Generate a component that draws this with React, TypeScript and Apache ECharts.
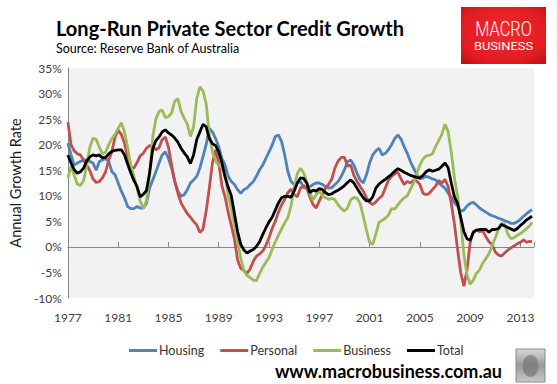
import React, { useEffect, useRef } from 'react';
import * as echarts from 'echarts';

// Quarterly observations from 1977 Q1, final point late 2013
const startYear = 1977;
const lastDate = 2013.92;
const seriesNames = ['Housing', 'Personal', 'Business', 'Total'];
const seriesColors = ['#4f81bd', '#c0504d', '#9bbb59', '#000000'];
const yTicks = [-10, -5, 0, 5, 10, 15, 20, 25, 30, 35];

const housing = [
  20.3, 18, 16, 16.4, 16.7, 17, 17, 16.7, 16.4, 15, 16.7, 17, 17.3, 16.7, 14.7, 14.1,
  12.5, 10.9, 9.6, 7.9, 7.5, 7.5, 7.9, 7.6, 7.6, 8.5, 11.5, 13.1, 14.7, 16.4, 18, 18.6,
  17.3, 15.4, 12.8, 10.9, 9.9, 10.2, 11.2, 12.5, 13.1, 13.8, 15.4, 17.7, 20, 23.2, 22.5, 21.2,
  19.6, 17.3, 16, 13.8, 12.8, 12.2, 11.2, 10.5, 11.2, 11.5, 12.2, 12.8, 13.8, 15.1, 16, 17.3,
  18.6, 19.9, 21.6, 21.9, 20.6, 18, 14.7, 12.8, 12.2, 12.5, 12.8, 11.6, 11.5, 11.8, 12.2, 12.5,
  12.5, 12.2, 11.8, 11.5, 11.6, 12.2, 12.8, 13.8, 15.1, 16.7, 17, 16, 14.4, 13.1, 12.5, 14.1,
  16.4, 18, 18.8, 19.3, 18, 18.3, 19, 20, 21.2, 21.9, 21.1, 19.6, 18.3, 16.7, 15.4, 14.2,
  13.3, 13.5, 13.8, 13.6, 13.3, 13.1, 12.5, 12, 11.5, 10.5, 9.7, 8.6, 8, 7, 7.2, 8,
  8.5, 8.7, 8.2, 7.6, 7.2, 6.8, 6.4, 6.1, 5.9, 5.6, 5.4, 5.1, 4.9, 4.6, 4.6, 4.9,
  5.4, 6, 6.5, 7.0, 7.3,
];
const personal = [
  24.4, 20, 18.8, 18.2, 18, 16.9, 16, 14.9, 13.3, 12.6, 12.8, 13.5, 14.7, 17, 18.6, 21.5,
  22.8, 22, 20.3, 17.5, 15.6, 15.4, 16.5, 17.8, 18.3, 19.3, 19.8, 19.6, 19, 19.4, 21, 21.5,
  19.5, 16, 12.8, 10.5, 8.6, 7.5, 6.5, 5.8, 5, 4.3, 2.8, 3.5, 7, 11.5, 16.5, 19,
  16.5, 12, 9.8, 6.8, 4.2, 1.5, -2.5, -4.2, -4.6, -5.2, -4.3, -2.8, -1.8, -1.4, -0.8, 0.3,
  1.8, 3.6, 5, 6.8, 8.2, 9.3, 10.6, 11.3, 10.3, 9.8, 11.5, 12, 11.5, 9.8, 8.3, 7.6,
  9, 10.2, 11.5, 12.3, 13.3, 15.5, 16.8, 17.5, 17.5, 15.8, 16, 14, 12.8, 11.8, 10.9, 9.6,
  8.7, 8.3, 8.8, 9.5, 10, 11.5, 13, 13.8, 14.3, 14.6, 13.3, 12.2, 12.8, 12.5, 13, 12.9,
  12.2, 10.5, 10.2, 10.5, 11.2, 11.9, 13, 12.5, 13.2, 11.8, 8.5, 4.5, -0.5, -5, -7.7, -4.5,
  0.8, 3, 3.3, 3, 3.1, 2, 1, 0.4, -1, -1.6, -1.8, -1.2, -0.6, -0.2, 0.2, 0.6,
  0.9, 1.4, 0.9, 1.1, 1.0,
];
const business = [
  13.5, 15.8, 14, 12.3, 12, 13, 16, 19.5, 21.3, 21, 19.5, 18.2, 18.5, 20, 21.2, 22,
  23.2, 24.3, 22.5, 19.5, 16, 13.8, 11.5, 9, 7.5, 9, 14, 21.5, 25, 26.5, 26.8, 25.3,
  25.5, 26.2, 28.5, 29, 26.5, 25.2, 24, 21.6, 23.5, 29, 31.3, 30.5, 28, 22, 18.6, 16.8,
  16, 15.5, 14.3, 10, 7.5, 4.3, 1, -2.2, -4.6, -5.6, -6, -6.5, -6.6, -5.2, -4, -3,
  -2.1, -0.5, 1, 2.3, 3.5, 4.7, 5.7, 8, 11.5, 14.3, 15.4, 14.5, 12.8, 10.5, 9.2, 10.2,
  10.9, 10, 9.6, 9.3, 9.5, 9.2, 8.2, 7.5, 7, 7.6, 9.2, 9.7, 9.5, 8.5, 6, 3.3,
  0.9, 0.5, 2.5, 4.8, 5.2, 5.6, 6.2, 7.5, 7.4, 8.2, 9, 9.6, 10, 11.3, 12.5, 14.3,
  16, 17.2, 17.8, 17.9, 18.2, 19.6, 20.8, 22, 24, 22.5, 18.5, 13.5, 10, 5, -1.5, -5.5,
  -7.3, -6.5, -5.2, -4.5, -3.2, -2.3, -1.3, 0.2, 1.8, 3.4, 4.6, 4.4, 2.5, 1.6, 1.8, 2.3,
  2.6, 3.1, 3.6, 4.2, 4.8,
];
const total = [
  18, 16.4, 15.1, 14.4, 14.7, 15.4, 16.8, 17.6, 18, 17.8, 18, 17.4, 17.5, 18.2, 18.7, 18.9,
  19, 19, 18, 16.2, 14.5, 13, 11.8, 9.8, 10.3, 11, 14.5, 19.2, 20.8, 21.5, 22.5, 22.9,
  22.3, 21.9, 21.3, 20.5, 19.3, 18.4, 17.6, 16.3, 18, 21, 22.5, 24, 23.5, 21.2, 20.2, 19.8,
  18.6, 16.5, 13.7, 11.7, 10, 6.5, 3, 0.5, -0.6, -1.2, -0.8, -0.5, 0.1, 1, 2.4, 3.7,
  4.9, 5.8, 7.2, 8.6, 9.6, 9.9, 9.9, 9.7, 10.9, 12.5, 13.5, 13.4, 12.5, 10.6, 11.1, 10.9,
  11.4, 11.2, 10.6, 10.2, 10.4, 10.8, 11.1, 11.5, 12, 12.6, 13.1, 12.5, 11.5, 10.5, 9.6, 9,
  9, 9.8, 11.5, 12.3, 12.8, 13.2, 13.7, 14.2, 14.8, 15.3, 15, 14.6, 14.3, 14, 13.8, 13.6,
  13.5, 14, 14.7, 15.1, 14.8, 15, 15.2, 15.8, 16.4, 15.5, 12.5, 9.8, 8.5, 5.8, 3, 1.6,
  1.3, 2.8, 3.3, 3.4, 3.4, 3.4, 2.9, 3.4, 3.4, 3.6, 4.4, 4.1, 3.8, 3.5, 3.2, 3.6,
  4.2, 4.7, 5.3, 5.7, 6.0,
];

const allSeries = [housing, personal, business, total];

function toPoints(values: number[]): [number, number][] {
  return values.map((v, i) => [i === values.length - 1 ? lastDate : startYear + i * 0.25, v]);
}

const FONT = 'Lato, "Open Sans", sans-serif';

export default function App() {
  const ref = useRef<HTMLDivElement>(null);
  useEffect(() => {
    document.body.style.margin = '0';
    if (!ref.current) return;
    const chart = echarts.init(ref.current, undefined, { renderer: 'svg' });
    const axisGrey = '#868686';
    const xCommon = {
      type: 'value' as const,
      min: startYear,
      max: 2014.08,
      interval: 4,
      splitLine: { show: false },
    };
    chart.setOption({
      animation: false,
      backgroundColor: '#ffffff',
      textStyle: { fontFamily: FONT },
      grid: {
        left: 56, right: 23, top: 68, bottom: 86,
        show: true, backgroundColor: '#f2f2f2', borderWidth: 0,
      },
      xAxis: [
        {
          ...xCommon,
          position: 'bottom',
          axisLine: { show: false, onZero: false },
          axisTick: { show: false },
          axisLabel: {
            margin: 13,
            color: '#404040',
            fontSize: 12,
            fontFamily: FONT,
            align: 'center',
            formatter: (v: number) => ((v - startYear) % 4 === 0 ? String(v) : ''),
          },
        },
        {
          ...xCommon,
          position: 'top',
          axisLine: { show: true, onZero: true, onZeroAxisIndex: 0, lineStyle: { color: axisGrey, width: 1 } },
          axisTick: { show: true, inside: false, length: 5, lineStyle: { color: axisGrey } },
          axisLabel: { show: false },
        },
      ],
      yAxis: {
        type: 'value',
        min: yTicks[0],
        max: yTicks[yTicks.length - 1],
        interval: 5,
        name: 'Annual Growth Rate',
        nameLocation: 'middle',
        nameRotate: 90,
        nameGap: 37,
        nameTextStyle: { fontSize: 14.5, color: '#1a1a1a', fontFamily: FONT },
        axisLine: { show: true, lineStyle: { color: axisGrey, width: 1 } },
        axisTick: { show: false },
        splitLine: { show: false },
        axisLabel: { color: '#404040', fontSize: 12, margin: 6, fontFamily: FONT, formatter: (v: number) => `${v}%` },
      },
      legend: {
        data: seriesNames,
        left: 124,
        top: 339,
        icon: 'rect',
        itemWidth: 28,
        itemHeight: 3,
        itemGap: 16,
        textStyle: { fontSize: 12.5, color: '#333333', fontFamily: FONT, padding: [0, 0, 0, -3] },
      },
      series: allSeries.map((vals, i) => ({
        name: seriesNames[i],
        type: 'line',
        xAxisIndex: 0,
        data: toPoints(vals),
        showSymbol: false,
        symbol: 'none',
        color: seriesColors[i],
        lineStyle: { width: 2.8, color: seriesColors[i] },
      })),
      graphic: [
        {
          type: 'text', left: 56, top: 18,
          style: { text: 'Long-Run Private Sector Credit Growth', fill: '#000', font: `bold 20px ${FONT}` },
        },
        {
          type: 'text', left: 56, top: 42,
          style: { text: 'Source: Reserve Bank of Australia', fill: '#000', font: `12.5px ${FONT}` },
        },
        {
          type: 'rect', shape: { x: 461, y: 7, width: 85, height: 57 },
          style: {
            fill: new echarts.graphic.RadialGradient(0.5, 0.45, 0.75, [
              { offset: 0, color: '#f4292c' },
              { offset: 0.7, color: '#e01c22' },
              { offset: 1, color: '#b80f16' },
            ]),
          },
        },
        {
          type: 'text', x: 503.5, y: 29.5, scaleX: 0.78, scaleY: 1,
          style: { text: 'MACRO', fill: '#ffffff', font: `300 21px Roboto, sans-serif`, textAlign: 'center', textVerticalAlign: 'middle' },
        },
        {
          type: 'text', x: 503.5, y: 46, scaleX: 1.12, scaleY: 1,
          style: { text: 'BUSINESS', fill: '#ffffff', font: `11.5px Roboto, sans-serif`, textAlign: 'center', textVerticalAlign: 'middle' },
        },
        {
          type: 'text', x: 502, y: 371,
          style: { text: 'www.macrobusiness.com.au', fill: '#000', font: `bold 18px ${FONT}`, textAlign: 'right', textVerticalAlign: 'middle' },
        },
        {
          type: 'rect', shape: { x: 516, y: 349, width: 29, height: 33 },
          style: {
            fill: new echarts.graphic.LinearGradient(0, 0, 0, 1, [
              { offset: 0, color: '#d8d8d8' },
              { offset: 0.5, color: '#9a9a9a' },
              { offset: 1, color: '#c8c8c8' },
            ]),
            stroke: '#8a8a8a', lineWidth: 1,
          },
        },
        {
          type: 'ellipse', shape: { cx: 530.5, cy: 366, rx: 8, ry: 11 },
          style: { fill: '#6e6e6e', opacity: 0.6 },
        },
      ],
    });
    return () => chart.dispose();
  }, []);
  return <div ref={ref} style={{ width: 557, height: 384 }} />;
}
